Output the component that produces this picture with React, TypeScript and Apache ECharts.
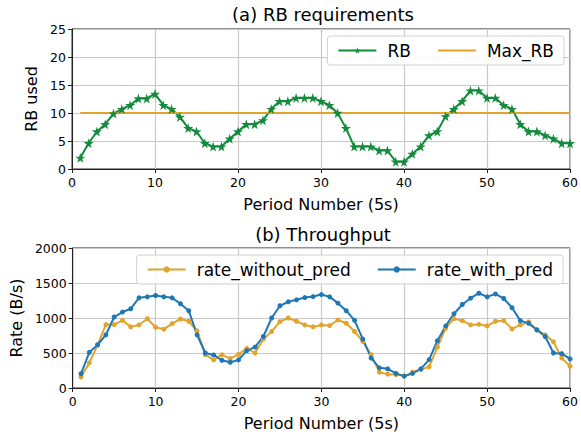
import React, { useEffect, useRef } from "react";
import * as echarts from "echarts";

const periods = Array.from({ length: 60 }, (_, i) => i + 1);
const rbUsed = [
  2.0, 4.6, 6.7, 8.0, 9.9, 10.7, 11.4, 12.6, 12.6, 13.4,
  11.4, 10.7, 9.3, 7.3, 6.7, 4.6, 4.0, 4.0, 5.4, 6.7,
  8.0, 8.0, 8.7, 10.7, 12.1, 12.1, 12.7, 12.7, 12.7, 12.1,
  11.4, 10.0, 7.3, 4.0, 4.0, 4.0, 3.3, 3.3, 1.3, 1.3,
  2.7, 4.0, 6.0, 6.7, 9.4, 10.7, 12.1, 14.0, 14.0, 12.7,
  12.7, 11.4, 10.7, 8.0, 6.7, 6.7, 6.0, 5.4, 4.6, 4.6,
];
const maxRb = periods.map(() => 10);
const rateWithoutPred = [
  156, 358, 613, 906, 906, 967, 873, 901, 990, 868,
  840, 920, 986, 953, 816, 476, 401, 476, 420, 481,
  566, 500, 698, 807, 948, 1000, 953, 901, 873, 901,
  892, 972, 925, 807, 665, 476, 226, 198, 193, 170,
  226, 264, 302, 585, 854, 991, 962, 901, 910, 887,
  953, 962, 844, 901, 943, 830, 760, 660, 429, 311,
];
const rateWithPred = [
  203, 509, 618, 760, 1014, 1085, 1132, 1288, 1302, 1321,
  1302, 1288, 1203, 1104, 760, 500, 472, 396, 368, 401,
  533, 585, 736, 1000, 1175, 1231, 1260, 1292, 1306, 1335,
  1302, 1212, 1104, 967, 698, 429, 288, 274, 208, 170,
  208, 274, 406, 675, 887, 1061, 1193, 1283, 1354, 1302,
  1344, 1278, 1146, 962, 925, 830, 736, 500, 491, 415,
];
const xTicks = [0, 10, 20, 30, 40, 50, 60];
const rbTicks = [0, 5, 10, 15, 20, 25];
const rateTicks = [0, 500, 1000, 1500, 2000];

const GREEN = "#138a3c";
const ORANGE = "#e2a42c";
const BLUE = "#1f77b4";
const FONT = "DejaVu Sans";
const GRIDC = "#c8c8c8";
const STAR = "path://M50,0 L61,35 L98,35 L68,57 L79,91 L50,70 L21,91 L32,57 L2,35 L39,35 Z";

function pairs(vals: number[]) {
  return periods.map((p, i) => [p, vals[i]]);
}

function xAxis(gridIndex: number) {
  return {
    type: "value" as const,
    gridIndex,
    min: xTicks[0],
    max: xTicks[xTicks.length - 1],
    interval: 10,
    name: "Period Number (5s)",
    nameLocation: "middle" as const,
    nameGap: 27,
    nameTextStyle: { fontFamily: FONT, fontSize: 16, color: "#000" },
    axisLine: { show: true, lineStyle: { color: "#222", width: 1 } },
    axisTick: { show: true, length: 4, lineStyle: { color: "#222" } },
    axisLabel: { fontFamily: FONT, fontSize: 12.5, color: "#000", margin: 7, formatter: (v: number) => String(v) },
    splitLine: { show: true, lineStyle: { color: GRIDC, width: 1.2 } },
  };
}

function yAxis(gridIndex: number, ticks: number[], name: string, nameGap: number) {
  return {
    type: "value" as const,
    gridIndex,
    min: ticks[0],
    max: ticks[ticks.length - 1],
    interval: ticks[1] - ticks[0],
    name,
    nameLocation: "middle" as const,
    nameGap,
    nameTextStyle: { fontFamily: FONT, fontSize: 16, color: "#000" },
    axisLine: { show: true, lineStyle: { color: "#222", width: 1 } },
    axisTick: { show: true, length: 4, lineStyle: { color: "#222" } },
    axisLabel: { fontFamily: FONT, fontSize: 12.5, color: "#000", margin: 6, formatter: (v: number) => String(v) },
    splitLine: { show: true, lineStyle: { color: GRIDC, width: 1.2 } },
  };
}

const legendCommon = {
  orient: "horizontal" as const,
  backgroundColor: "rgba(255,255,255,0.85)",
  borderColor: "#d0d0d0",
  borderWidth: 1,
  borderRadius: 3,
  padding: [6, 10, 6, 10],
  itemWidth: 38,
  itemHeight: 8,
  itemGap: 26,
  textStyle: { fontFamily: FONT, fontSize: 17, color: "#000", padding: [0, 0, 0, 6] },
};

export default function App() {
  const ref = useRef<HTMLDivElement>(null);
  useEffect(() => {
    if (!ref.current) return;
    const chart = echarts.init(ref.current, undefined, { renderer: "svg" });
    chart.setOption({
      animation: false,
      backgroundColor: "#fff",
      grid: [
        { left: 72, right: 9, top: 29, bottom: 270, show: true, borderColor: "#222", borderWidth: 1 },
        { left: 72, right: 9, top: 248, bottom: 51, show: true, borderColor: "#222", borderWidth: 1 },
      ],
      graphic: [
        {
          type: "text",
          x: 323,
          y: 14,
          style: { text: "(a) RB requirements", fontFamily: FONT, fontSize: 18, fill: "#000", align: "center", verticalAlign: "middle" },
        },
        {
          type: "text",
          x: 323,
          y: 234,
          style: { text: "(b) Throughput", fontFamily: FONT, fontSize: 18, fill: "#000", align: "center", verticalAlign: "middle" },
        },
      ],
      legend: [
        {
          ...legendCommon,
          right: 17,
          top: 36,
          data: ["RB", { name: "Max_RB", itemStyle: { opacity: 0 } }],
        },
        { ...legendCommon, right: 18, top: 255, data: ["rate_without_pred", "rate_with_pred"] },
      ],
      xAxis: [xAxis(0), xAxis(1)],
      yAxis: [yAxis(0, rbTicks, "RB used", 28), yAxis(1, rateTicks, "Rate (B/s)", 40)],
      series: [
        {
          name: "RB",
          type: "line",
          xAxisIndex: 0,
          yAxisIndex: 0,
          data: pairs(rbUsed),
          symbol: STAR,
          symbolSize: 10,
          lineStyle: { color: GREEN, width: 2 },
          itemStyle: { color: GREEN },
        },
        {
          name: "Max_RB",
          type: "line",
          xAxisIndex: 0,
          yAxisIndex: 0,
          data: pairs(maxRb),
          symbol: "none",
          lineStyle: { color: ORANGE, width: 2 },
          itemStyle: { color: ORANGE },
        },
        {
          name: "rate_without_pred",
          type: "line",
          xAxisIndex: 1,
          yAxisIndex: 1,
          data: pairs(rateWithoutPred),
          symbol: "circle",
          symbolSize: 5,
          lineStyle: { color: ORANGE, width: 2 },
          itemStyle: { color: ORANGE },
        },
        {
          name: "rate_with_pred",
          type: "line",
          xAxisIndex: 1,
          yAxisIndex: 1,
          data: pairs(rateWithPred),
          symbol: "circle",
          symbolSize: 5,
          lineStyle: { color: BLUE, width: 2 },
          itemStyle: { color: BLUE },
        },
      ],
    });
    return () => chart.dispose();
  }, []);
  return (
    <div
      ref={ref}
      style={{ position: "fixed", left: 0, top: 0, width: 581, height: 439, background: "#fff" }}
    />
  );
}
